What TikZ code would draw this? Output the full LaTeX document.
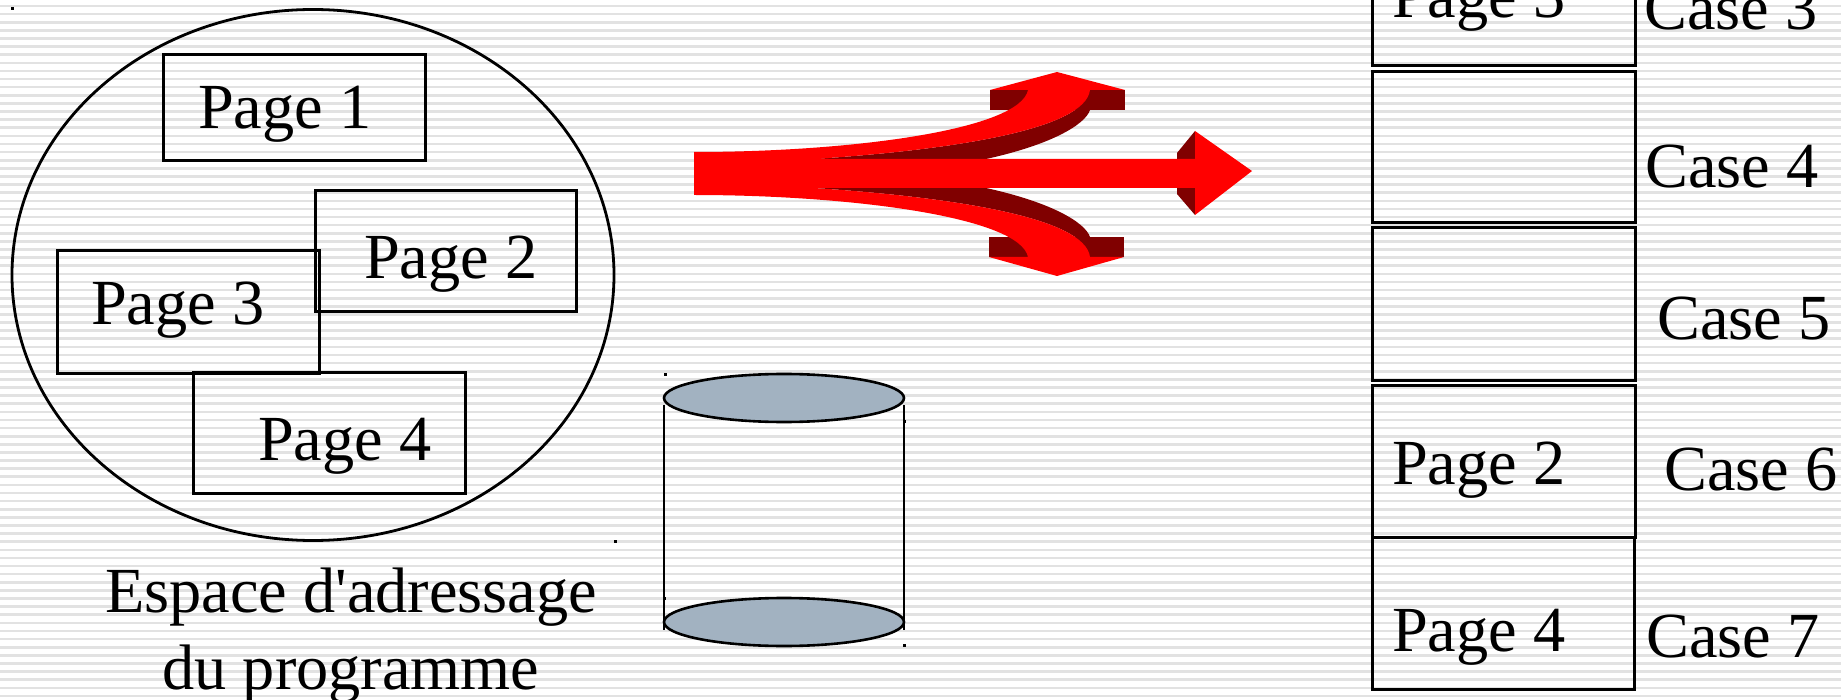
\documentclass[tikz,border=0pt]{standalone}
\usepackage{fontspec}
\setmainfont{Liberation Serif}
\usetikzlibrary{positioning}

\definecolor{stripegray}{HTML}{E2E2E2}
\definecolor{diskgray}{HTML}{A2B2C1}
\definecolor{arrowdark}{HTML}{800000}

\tikzset{
    pagebox/.style={draw=black, line width=3pt},
    pagelabel/.style={anchor=base west, inner sep=0pt, font=\fontsize{64.3}{77}\selectfont},
    titlelabel/.style={anchor=base, inner sep=0pt, font=\fontsize{64.3}{77}\selectfont},
    handle/.style={fill=black, minimum size=3pt, inner sep=0pt},
}

\begin{document}
\begin{tikzpicture}[x=1pt, y=-1pt]
    \useasboundingbox (0,0) rectangle (1841,700);
    \clip (0,0) rectangle (1841,700);
    \fill[white] (0,0) rectangle (1841,700);

    % stripes
    \foreach \s in {0,...,86}
        \fill[stripegray] (0,{4.7+8.117*\s}) rectangle (1841,{7.3+8.117*\s});

    % address space
    \draw[line width=2.8pt] (313,275) ellipse [x radius=301, y radius=265.5];
    \draw[pagebox] (163,55) rectangle (425,161);
    \draw[pagebox] (315,191) rectangle (576,312);
    \draw[pagebox] (57,251) rectangle (319,373);
    \draw[pagebox] (193,372) rectangle (465,493);
    \node[pagelabel] (page1) at (198,129) {Page 1};
    \node[pagelabel] (page2) at (364,279) {Page 2};
    \node[pagelabel] (page3) at (91,325) {Page 3};
    \node[pagelabel] (page4) at (258,460) {Page 4};
    \node[titlelabel] (title1) at (351,612) {Espace d\textquotesingle adressage};
    \node[titlelabel] (title2) at (351,689) {du programme};

    % disk
    \draw[line width=2.6pt] (664,405) -- (664,630);
    \draw[line width=2.6pt] (904,405) -- (904,630);
    \draw[line width=2.6pt, fill=diskgray] (784,398) ellipse [x radius=120, y radius=24];
    \draw[line width=2.6pt, fill=diskgray] (784,622) ellipse [x radius=120, y radius=24];

    % selection marks
    \foreach \n/\x/\y in {a/12/9, b/665/374, c/615/541, d/904/645, e/904/421, f/664/598}
        \node[handle] (mark\n) at (\x,\y) {};

    % arrow, dark parts
    \fill[arrowdark] (990,90) rectangle (1125,110);
    \fill[arrowdark] (989,237) rectangle (1124,257);
    \fill[arrowdark] (1177,153) -- (1195,131) -- (1195,215) -- (1177,194) -- cycle;
    \fill[arrowdark] (814,159) .. controls (950,150) and (1085,130) .. (1090,90)
        -- (1090,110) .. controls (1085,125) and (1050,145) .. (986,159) -- cycle;
    \fill[arrowdark] (814,188) .. controls (950,197) and (1085,217) .. (1090,257)
        -- (1090,237) .. controls (1085,222) and (1050,202) .. (986,188) -- cycle;

    % arrow, red parts
    \fill[red] (694,152) .. controls (850,152) and (1020,130) .. (1028,90)
        -- (990,90) -- (1057,72) -- (1125,90) -- (1090,90)
        .. controls (1085,130) and (950,150) .. (814,159)
        -- (1195,159) -- (1195,131) -- (1252,171) -- (1195,215) -- (1195,188)
        -- (814,188) .. controls (950,197) and (1085,217) .. (1090,257)
        -- (1124,257) -- (1057,276) -- (989,257) -- (1028,257)
        .. controls (1020,217) and (850,195) .. (694,195) -- cycle;

    % memory
    \draw[pagebox] (1372,-86) rectangle (1635,66);
    \draw[pagebox] (1372,72) rectangle (1635,223);
    \draw[pagebox] (1372,228) rectangle (1635,380);
    \draw[pagebox] (1372,385) rectangle (1635,537);
    \draw[pagebox] (1372,537) rectangle (1634,689);
    \node[pagelabel] (frame3) at (1392,18) {Page 3};
    \node[pagelabel] (frame6) at (1392,484) {Page 2};
    \node[pagelabel] (frame7) at (1392,651) {Page 4};
    \foreach \c/\x/\y in {3/1644/30, 4/1645/188, 5/1657/340, 6/1664/490, 7/1646/657}
        \node[pagelabel] (case\c) at (\x,\y) {Case \c};
\end{tikzpicture}
\end{document}
